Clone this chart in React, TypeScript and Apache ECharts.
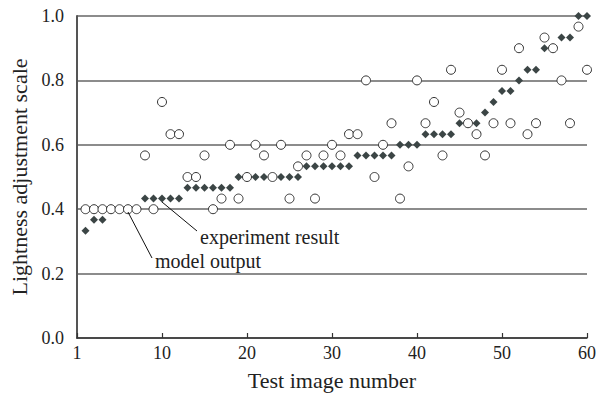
import React, { useEffect, useRef } from "react";
import * as echarts from "echarts";

const imageNumbers: number[] = Array.from({ length: 60 }, (_, i) => i + 1);

const experimentResult: number[] = [
  0.333, 0.367, 0.367, 0.4, 0.4, 0.4, 0.4, 0.433, 0.433, 0.433,
  0.433, 0.433, 0.467, 0.467, 0.467, 0.467, 0.467, 0.467, 0.5, 0.5,
  0.5, 0.5, 0.5, 0.5, 0.5, 0.5, 0.533, 0.533, 0.533, 0.533,
  0.533, 0.533, 0.567, 0.567, 0.567, 0.567, 0.567, 0.6, 0.6, 0.6,
  0.633, 0.633, 0.633, 0.633, 0.667, 0.667, 0.667, 0.7, 0.733, 0.767,
  0.767, 0.8, 0.833, 0.833, 0.9, 0.9, 0.933, 0.933, 1.0, 1.0,
];

const modelOutput: number[] = [
  0.4, 0.4, 0.4, 0.4, 0.4, 0.4, 0.4, 0.567, 0.4, 0.733,
  0.633, 0.633, 0.5, 0.5, 0.567, 0.4, 0.433, 0.6, 0.433, 0.5,
  0.6, 0.567, 0.5, 0.6, 0.433, 0.533, 0.567, 0.433, 0.567, 0.6,
  0.567, 0.633, 0.633, 0.8, 0.5, 0.6, 0.667, 0.433, 0.533, 0.8,
  0.667, 0.733, 0.567, 0.833, 0.7, 0.667, 0.633, 0.567, 0.667, 0.833,
  0.667, 0.9, 0.633, 0.667, 0.933, 0.9, 0.8, 0.667, 0.967, 0.833,
];

const xTicks: number[] = [0, 10, 20, 30, 40, 50, 60];
const yTicks: number[] = [0, 0.2, 0.4, 0.6, 0.8, 1.0];

const FONT = "'Liberation Serif', 'Times New Roman', serif";

export default function App() {
  const ref = useRef<HTMLDivElement>(null);

  useEffect(() => {
    if (!ref.current) return;
    const chart = echarts.init(ref.current, undefined, { renderer: "svg" });
    const option: any = {
      animation: false,
      backgroundColor: "#ffffff",
      textStyle: { fontFamily: FONT },
      grid: { left: 77, right: 12, top: 16, bottom: 59, containLabel: false },
      xAxis: {
        type: "value",
        min: xTicks[0],
        max: xTicks[xTicks.length - 1],
        interval: 10,
        name: "Test image number",
        nameLocation: "middle",
        nameGap: 31,
        nameTextStyle: { fontFamily: FONT, fontSize: 22, color: "#222" },
        axisLine: { show: true, onZero: false, lineStyle: { color: "#333", width: 1.5 } },
        axisTick: { show: true, inside: true, length: 5, lineStyle: { color: "#333", width: 1.2 } },
        axisLabel: {
          fontFamily: FONT,
          fontSize: 18,
          color: "#222",
          margin: 6,
          formatter: (v: number) => (v === 0 ? "1" : String(v)),
        },
        splitLine: { show: false },
      },
      yAxis: {
        type: "value",
        min: yTicks[0],
        max: yTicks[yTicks.length - 1],
        interval: 0.2,
        name: "Lightness adjustment scale",
        nameLocation: "middle",
        nameRotate: 90,
        nameGap: 46,
        nameTextStyle: { fontFamily: FONT, fontSize: 22, color: "#222" },
        axisLine: { show: true, lineStyle: { color: "#555", width: 2 } },
        axisTick: { show: false },
        axisLabel: {
          fontFamily: FONT,
          fontSize: 18,
          color: "#222",
          margin: 13,
          formatter: (v: number) => v.toFixed(1),
        },
        splitLine: { show: true, lineStyle: { color: "#666", width: 1.5 } },
      },
      series: [
        {
          name: "experiment result",
          type: "scatter",
          symbol: "diamond",
          symbolSize: [8, 8],
          itemStyle: { color: "#3b4545", opacity: 1 },
          data: imageNumbers.map((n, i) => [n, experimentResult[i]]),
          z: 2,
        },
        {
          name: "model output",
          type: "scatter",
          symbol: "circle",
          symbolSize: 9,
          itemStyle: { color: "#ffffff", borderColor: "#333", borderWidth: 1, opacity: 1 },
          data: imageNumbers.map((n, i) => [n, modelOutput[i]]),
          z: 3,
        },
      ],
      graphic: [
        {
          type: "line",
          shape: { x1: 162, y1: 202, x2: 197, y2: 231 },
          style: { stroke: "#111", lineWidth: 1 },
          z: 10,
        },
        {
          type: "line",
          shape: { x1: 128, y1: 212, x2: 152, y2: 258 },
          style: { stroke: "#111", lineWidth: 1 },
          z: 10,
        },
        {
          type: "text",
          x: 200,
          y: 237,
          style: {
            text: "experiment result",
            fontFamily: FONT,
            fontSize: 20,
            fill: "#222",
            verticalAlign: "middle",
            align: "left",
          },
          z: 10,
        },
        {
          type: "text",
          x: 155,
          y: 261,
          style: {
            text: "model output",
            fontFamily: FONT,
            fontSize: 20,
            fill: "#222",
            verticalAlign: "middle",
            align: "left",
          },
          z: 10,
        },
      ],
    };
    chart.setOption(option);
    return () => chart.dispose();
  }, []);

  return (
    <div
      ref={ref}
      style={{ position: "fixed", left: 0, top: 0, width: 599, height: 397 }}
    />
  );
}
